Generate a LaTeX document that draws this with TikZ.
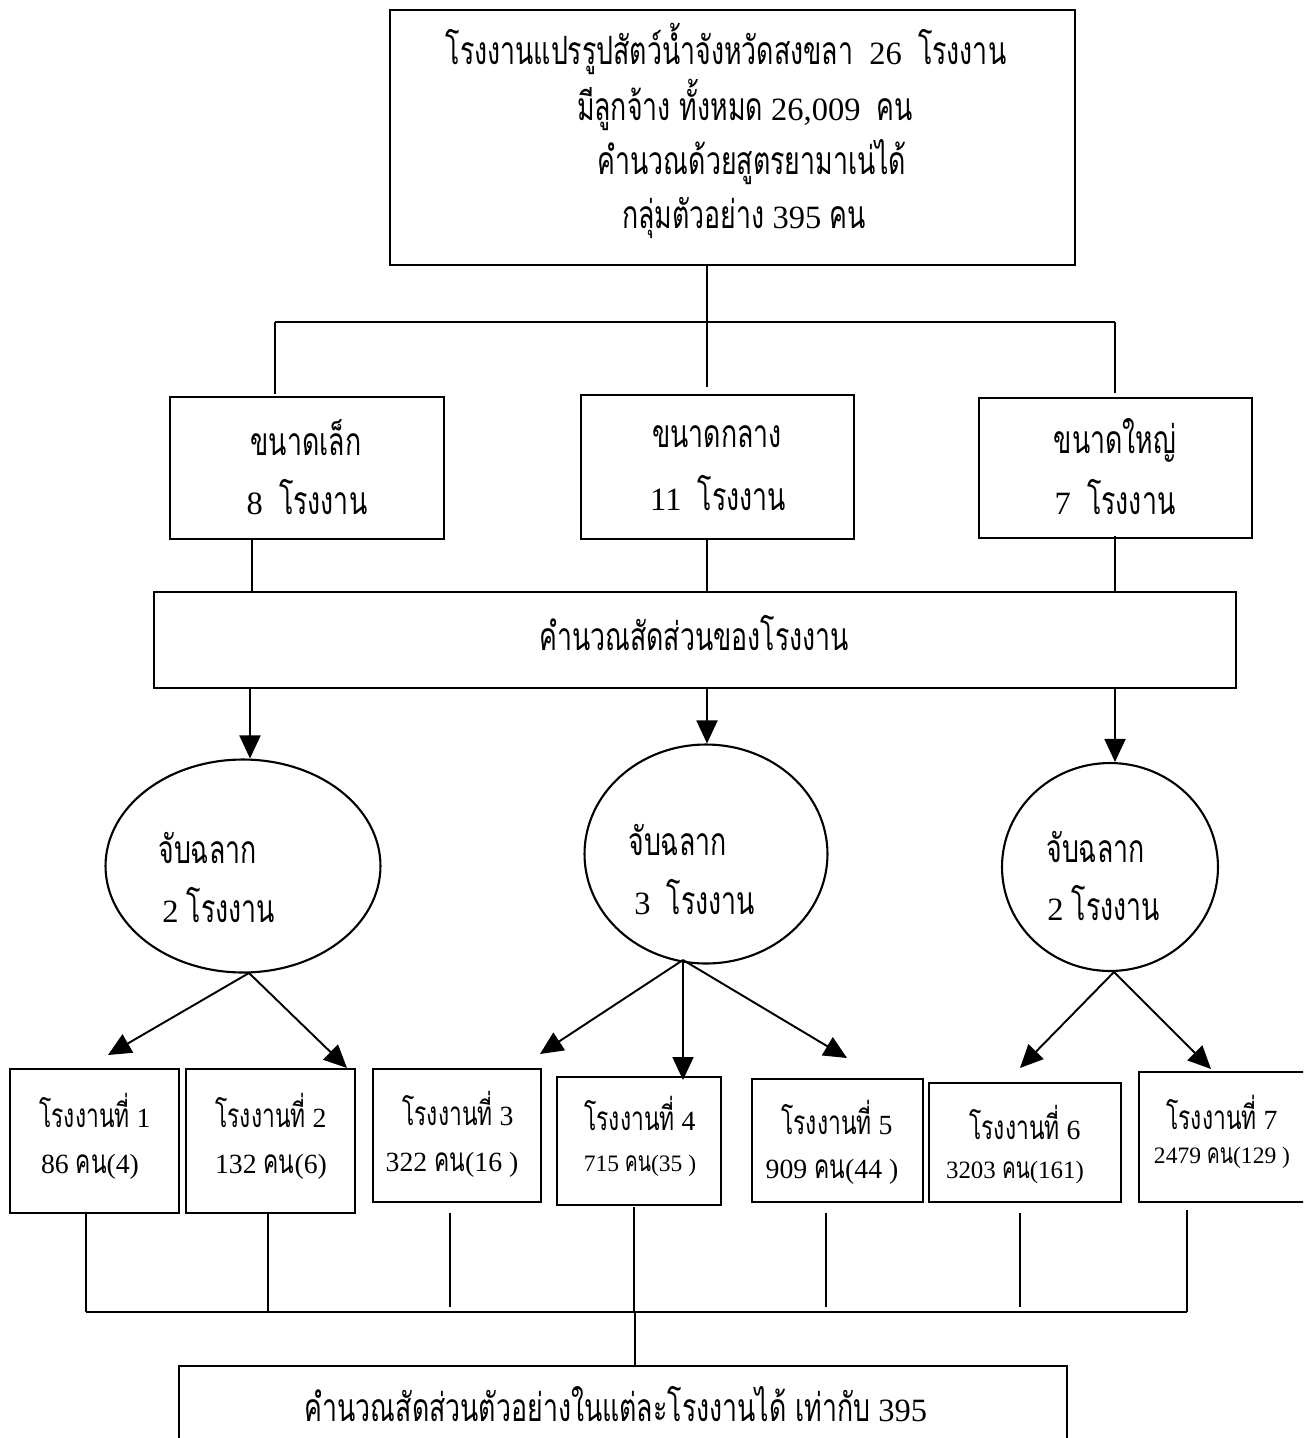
\documentclass[tikz,border=0pt]{standalone}
\usepackage{fontspec}
\setmainfont{Liberation Serif}
\newfontfamily\thaifont[Script=Thai,FakeStretch=0.685,Scale=1.2]{Loma}
\newcommand\T[1]{{\thaifont #1}}
\usetikzlibrary{shapes.geometric,arrows.meta,fit}
\begin{document}
\begin{tikzpicture}[x=0.02cm,y=-0.02cm,
  box/.style={draw,line width=1.5pt,inner sep=0pt},
  oval/.style={draw,ellipse,line width=1.2pt,inner sep=0pt},
  lbl/.style={inner sep=0pt,font=\fontsize{18.5}{21}\selectfont},
  lblb/.style={inner sep=0pt,font=\fontsize{15.8}{18}\selectfont},
  lblm/.style={inner sep=0pt,font=\fontsize{14.2}{16}\selectfont},
  lbls/.style={inner sep=0pt,font=\fontsize{13.4}{16}\selectfont},
  con/.style={line width=1.1pt},
  bar/.style={line width=1.6pt},
  arr/.style={line width=1.1pt,-{Triangle[length=0.46cm,width=0.42cm]}}]
\clip (0,0) rectangle (1303,1438);
\fill[white] (0,0) rectangle (1303,1438);

% top box
\node[box,fit={(390,10)(1075,265)}] (top) {};
\node[lbl] (t1) at (726,49) {\T{โรงงานแปรรูปสัตว์น้ำจังหวัดสงขลา}\ \ 26\ \ \T{โรงงาน}};
\node[lbl] (t2) at (745,105) {\T{มีลูกจ้าง ทั้งหมด} 26,009\ \ \T{คน}};
\node[lbl] (t3) at (752,162) {\T{คำนวณด้วยสูตรยามาเน่ได้}};
\node[lbl] (t4) at (744,218) {\T{กลุ่มตัวอย่าง} 395 \T{คน}};

% branching
\coordinate (ta) at (707,265);
\coordinate (tb) at (707,387);
\coordinate (bl) at (275,322);
\coordinate (br) at (1115,322);
\coordinate (bl2) at (275,394);
\coordinate (br2) at (1115,393);
\draw[con] (ta) -- (tb);
\draw[bar] (bl) -- (br);
\draw[con] (bl) -- (bl2);
\draw[con] (br) -- (br2);

% size boxes
\node[box,fit={(170,397)(444,539)}] (s1) {};
\node[box,fit={(581,395)(854,539)}] (s2) {};
\node[box,fit={(979,398)(1252,538)}] (s3) {};
\node[lbl] (s1a) at (306,438) {\T{ขนาดเล็ก}};
\node[lbl] (s1b) at (307,497) {8\ \ \T{โรงงาน}};
\node[lbl] (s2a) at (717,437) {\T{ขนาดกลาง}};
\node[lbl] (s2b) at (718,493) {11\ \ \T{โรงงาน}};
\node[lbl] (s3a) at (1115,440) {\T{ขนาดใหญ่}};
\node[lbl] (s3b) at (1115,497) {7\ \ \T{โรงงาน}};

% calc box
\node[box,fit={(154,592)(1236,688)}] (calc) {};
\node[lbl] (calct) at (694,633) {\T{คำนวณสัดส่วนของโรงงาน}};
\coordinate (d1) at (252,539);
\coordinate (d2) at (707,539);
\coordinate (d3) at (1115,536);
\draw[con] (d1) -- (d1 |- calc.north);
\draw[con] (d2) -- (d2 |- calc.north);
\draw[con] (d3) -- (d3 |- calc.north);

% ellipses
\node[oval,minimum width=5.5cm,minimum height=4.26cm] (e1) at (243,866) {};
\node[oval,minimum width=4.86cm,minimum height=4.38cm] (e2) at (706,854) {};
\node[oval,minimum width=4.32cm,minimum height=4.16cm] (e3) at (1110,867) {};
\node[lbl,anchor=west] (e1a) at (158,848) {\T{จับฉลาก}};
\node[lbl,anchor=west] (e1b) at (162,905) {2 \T{โรงงาน}};
\node[lbl,anchor=west] (e2a) at (628,840) {\T{จับฉลาก}};
\node[lbl,anchor=west] (e2b) at (634,897) {3\ \ \T{โรงงาน}};
\node[lbl,anchor=west] (e3a) at (1046,847) {\T{จับฉลาก}};
\node[lbl,anchor=west] (e3b) at (1047,903) {2 \T{โรงงาน}};

\coordinate (a1) at (250,688);
\coordinate (a2) at (707,688);
\coordinate (a3) at (1115,688);
\draw[arr] (a1) -- (a1 |- e1.north);
\draw[arr] (a2) -- (a2 |- e2.north);
\draw[arr] (a3) -- (a3 |- e3.north);

% bottom boxes
\node[box,fit={(10,1069)(179,1213)}] (b1) {};
\node[box,fit={(186,1069)(355,1213)}] (b2) {};
\node[box,fit={(373,1069)(541,1202)}] (b3) {};
\node[box,fit={(557,1077)(721,1205)}] (b4) {};
\node[box,fit={(752,1079)(923,1202)}] (b5) {};
\node[box,fit={(929,1083)(1121,1202)}] (b6) {};
\node[box,fit={(1139,1072)(1330,1202)}] (b7) {};

\node[lblb] (b1a) at (95,1110) {\T{โรงงานที่} 1};
\node[lblb] (b1b) at (90,1167) {86 \T{คน}(4)};
\node[lblb] (b2a) at (271,1110) {\T{โรงงานที่} 2};
\node[lblb] (b2b) at (271,1167) {132 \T{คน}(6)};
\node[lblb] (b3a) at (458,1108) {\T{โรงงานที่} 3};
\node[lblb] (b3b) at (452,1165) {322 \T{คน}(16 )};
\node[lblb] (b4a) at (640,1113) {\T{โรงงานที่} 4};
\node[lbls] (b4b) at (640,1166) {715 \T{คน}(35 )};
\node[lblb] (b5a) at (837,1117) {\T{โรงงานที่} 5};
\node[lblb] (b5b) at (832,1172) {909 \T{คน}(44 )};
\node[lblb] (b6a) at (1025,1122) {\T{โรงงานที่} 6};
\node[lblm] (b6b) at (1015,1172) {3203 \T{คน}(161)};
\node[lblb] (b7a) at (1222,1112) {\T{โรงงานที่} 7};
\node[lbls] (b7b) at (1222,1158) {2479 \T{คน}(129 )};

% ellipse to box arrows
\coordinate (v1) at (249,973);
\coordinate (v2) at (683,960);
\coordinate (v3) at (1114,972);
\coordinate (p1) at (108,1055);
\coordinate (p2) at (347,1068);
\coordinate (p3) at (540,1054);
\coordinate (p4) at (683,1080);
\coordinate (p5) at (847,1058);
\coordinate (p6) at (1020,1068);
\coordinate (p7) at (1211,1069);
\draw[arr] (v1) -- (p1);
\draw[arr] (v1) -- (p2);
\draw[arr] (v2) -- (p3);
\draw[arr] (v2) -- (p4);
\draw[arr] (v2) -- (p5);
\draw[arr] (v3) -- (p6);
\draw[arr] (v3) -- (p7);

% bottom collection
\coordinate (q1) at (86,1213);
\coordinate (q2) at (268,1213);
\coordinate (q3) at (450,1213);
\coordinate (q4) at (634,1207);
\coordinate (q5) at (826,1213);
\coordinate (q6) at (1020,1213);
\coordinate (q7) at (1187,1210);
\coordinate (gl) at (86,1312);
\coordinate (gr) at (1187,1312);
\coordinate (gm) at (635,1312);
\draw[bar] (gl) -- (gr);
\draw[con] (q1) -- (q1 |- gl);
\draw[con] (q2) -- (q2 |- gl);
\draw[con] (q3) -- ++(0,94);
\draw[con] (q4) -- (q4 |- gl);
\draw[con] (q5) -- ++(0,94);
\draw[con] (q6) -- ++(0,94);
\draw[con] (q7) -- (q7 |- gl);

% final box
\node[box,fit={(179,1366)(1067,1470)}] (fin) {};
\draw[con] (gm) -- (gm |- fin.north);
\node[lbl] (fint) at (616,1404) {\T{คำนวณสัดส่วนตัวอย่างในแต่ละโรงงานได้ เท่ากับ} 395};
\end{tikzpicture}
\end{document}
